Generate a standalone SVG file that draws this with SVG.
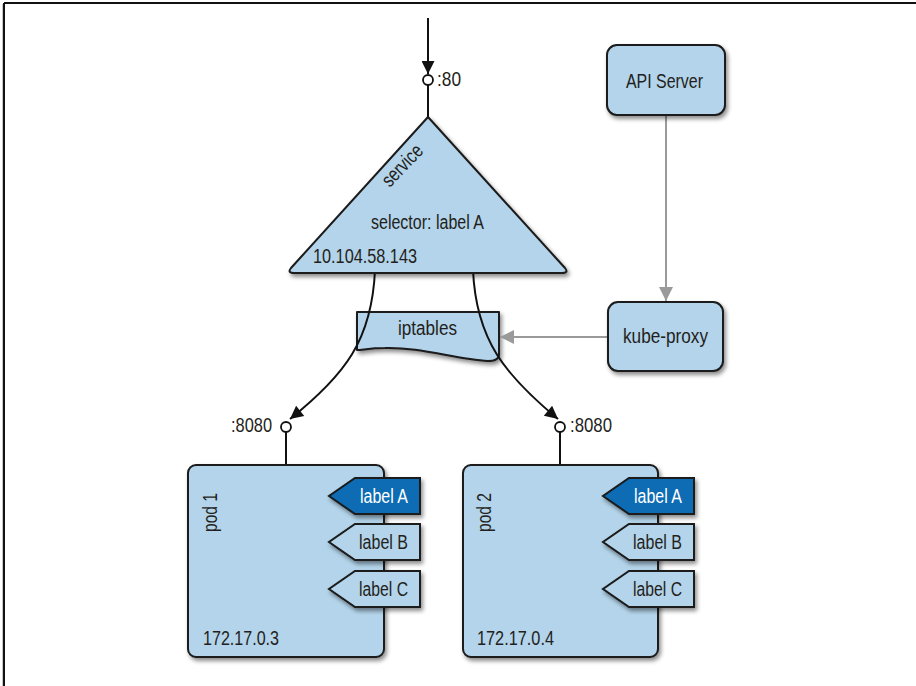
<svg xmlns="http://www.w3.org/2000/svg" width="916" height="686" viewBox="0 0 916 686">
  <defs>
    <style>
      .t { font-family: "Liberation Sans", Arial, sans-serif; font-size: 20px; fill: #231f20; }
      .w { fill: #ffffff; }
      .shape { fill: #b3d4ea; stroke: #1a1a1a; stroke-width: 2; stroke-linejoin: round; filter: url(#shadow); }
      .tagA { fill: #0d6cb4; stroke: #1a1a1a; stroke-width: 2; stroke-linejoin: miter; filter: url(#shadow); }
      .tag { fill: #b3d4ea; stroke: #1a1a1a; stroke-width: 2; stroke-linejoin: miter; filter: url(#shadow); }
      .flow { fill: none; stroke: #111; stroke-width: 2; }
      .ctrl { fill: none; stroke: #9a9a9a; stroke-width: 2; }
      .port { fill: #fff; stroke: #111; stroke-width: 1.8; }
    </style>
    <filter id="shadow" x="-10%" y="-10%" width="130%" height="130%">
      <feDropShadow dx="2" dy="3" stdDeviation="2" flood-color="#000" flood-opacity="0.45"/>
    </filter>
    <marker id="arrowBlack" viewBox="0 0 10 10" refX="10" refY="5" markerWidth="16" markerHeight="13" markerUnits="userSpaceOnUse" orient="auto">
      <path d="M0,0 L10,5 L0,10 Z" fill="#111"/>
    </marker>
    <marker id="arrowGray" viewBox="0 0 10 10" refX="10" refY="5" markerWidth="14" markerHeight="14" markerUnits="userSpaceOnUse" orient="auto">
      <path d="M0,0 L10,5 L0,10 Z" fill="#9a9a9a"/>
    </marker>
  </defs>

  <!-- page frame (top and left rule) -->
  <line x1="2.5" y1="4" x2="2.5" y2="686" stroke="#c8c8c8" stroke-width="1"/>
  <line x1="4" y1="3" x2="916" y2="3" stroke="#111" stroke-width="2"/>
  <line x1="4" y1="3" x2="4" y2="686" stroke="#111" stroke-width="2"/>

  <!-- iptables -->
  <g id="iptables">
    <path class="shape" d="M357,312 H499 V354 Q499,361 488,361 C455,359 420,347 385,348 C370,348 362,350 357,350 Z"/>
    <text class="t" x="398" y="335" textLength="59" lengthAdjust="spacingAndGlyphs">iptables</text>
  </g>

  <!-- connectors -->
  <g id="connectors">
    <line class="flow" x1="428" y1="18" x2="428" y2="74" marker-end="url(#arrowBlack)"/>
    <line class="flow" x1="428" y1="85" x2="428" y2="118"/>
    <path class="flow" d="M375,270 C372,340 345,375 290,419" marker-end="url(#arrowBlack)"/>
    <path class="flow" d="M473,270 C476,340 505,375 558,419" marker-end="url(#arrowBlack)"/>
    <line class="flow" x1="286" y1="432" x2="286" y2="465"/>
    <line class="flow" x1="560" y1="432" x2="560" y2="465"/>
    <line class="ctrl" x1="666" y1="115" x2="666" y2="301" marker-end="url(#arrowGray)"/>
    <line class="ctrl" x1="608" y1="337" x2="500" y2="337" marker-end="url(#arrowGray)"/>
    <circle class="port" cx="428" cy="80" r="5"/>
    <circle class="port" cx="286" cy="427" r="5"/>
    <circle class="port" cx="560" cy="427" r="5"/>
    <text class="t" x="437" y="86" textLength="24" lengthAdjust="spacingAndGlyphs">:80</text>
    <text class="t" x="231" y="432" textLength="41" lengthAdjust="spacingAndGlyphs">:8080</text>
    <text class="t" x="570" y="432" textLength="42" lengthAdjust="spacingAndGlyphs">:8080</text>
  </g>

  <!-- service -->
  <g id="service">
    <path class="shape" d="M428,117 L565,268 Q569,273 562,273 L294,273 Q287,273 291,268 Z"/>
    <text class="t" transform="translate(407,170) rotate(-46)" text-anchor="middle" textLength="50" lengthAdjust="spacingAndGlyphs">service</text>
    <text class="t" x="371" y="229" textLength="113" lengthAdjust="spacingAndGlyphs">selector: label A</text>
    <text class="t" x="313" y="263" textLength="104" lengthAdjust="spacingAndGlyphs">10.104.58.143</text>
  </g>

  <!-- API Server -->
  <g id="api-server">
    <rect class="shape" x="607" y="45" width="118" height="70" rx="10"/>
    <text class="t" x="626" y="88" textLength="77" lengthAdjust="spacingAndGlyphs">API Server</text>
  </g>

  <!-- kube-proxy -->
  <g id="kube-proxy">
    <rect class="shape" x="608" y="302" width="115" height="69" rx="10"/>
    <text class="t" x="623" y="343" textLength="85" lengthAdjust="spacingAndGlyphs">kube-proxy</text>
  </g>

  <!-- pod 1 -->
  <g id="pod1">
    <rect class="shape" x="188" y="465" width="196" height="192" rx="8"/>
    <text class="t" transform="translate(217,532) rotate(-90)" textLength="39" lengthAdjust="spacingAndGlyphs">pod 1</text>
    <text class="t" x="203" y="645" textLength="76" lengthAdjust="spacingAndGlyphs">172.17.0.3</text>
    <path class="tagA" d="M420,478 H355 L329,496 L355,514 H420 Z"/>
    <text class="t w" x="360" y="503" textLength="48" lengthAdjust="spacingAndGlyphs">label A</text>
    <path class="tag" d="M420,524 H355 L329,542 L355,560 H420 Z"/>
    <text class="t" x="359" y="549" textLength="49" lengthAdjust="spacingAndGlyphs">label B</text>
    <path class="tag" d="M420,571 H355 L329,589 L355,607 H420 Z"/>
    <text class="t" x="359" y="596" textLength="49" lengthAdjust="spacingAndGlyphs">label C</text>
  </g>

  <!-- pod 2 -->
  <g id="pod2">
    <rect class="shape" x="463" y="465" width="195" height="192" rx="8"/>
    <text class="t" transform="translate(491,532) rotate(-90)" textLength="39" lengthAdjust="spacingAndGlyphs">pod 2</text>
    <text class="t" x="477" y="645" textLength="77" lengthAdjust="spacingAndGlyphs">172.17.0.4</text>
    <path class="tagA" d="M694,478 H629 L603,496 L629,514 H694 Z"/>
    <text class="t w" x="634" y="503" textLength="48" lengthAdjust="spacingAndGlyphs">label A</text>
    <path class="tag" d="M694,524 H629 L603,542 L629,560 H694 Z"/>
    <text class="t" x="633" y="549" textLength="49" lengthAdjust="spacingAndGlyphs">label B</text>
    <path class="tag" d="M694,571 H629 L603,589 L629,607 H694 Z"/>
    <text class="t" x="633" y="596" textLength="49" lengthAdjust="spacingAndGlyphs">label C</text>
  </g>
</svg>
